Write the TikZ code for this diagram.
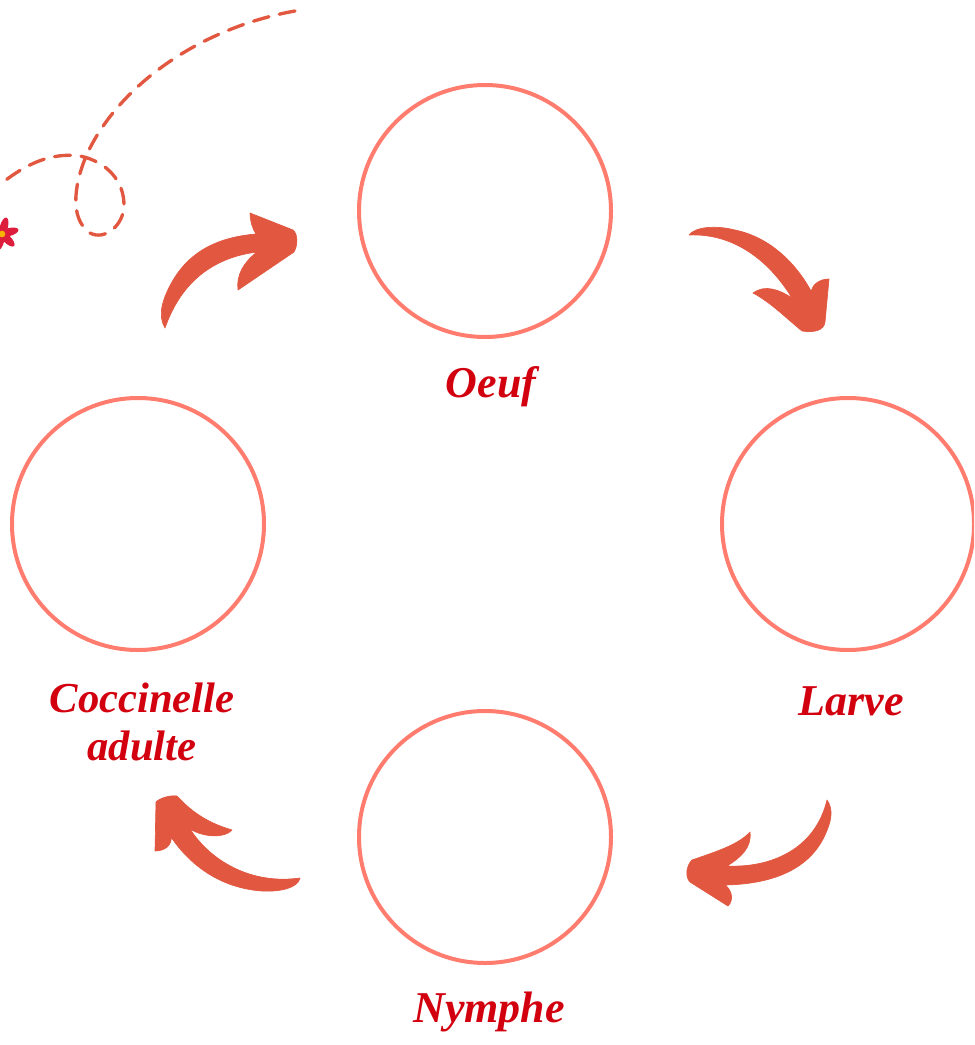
\documentclass[tikz,border=0pt]{standalone}
\usepackage{fontspec}
\setmainfont{Liberation Serif}
\definecolor{ringc}{HTML}{FF7C6E}
\definecolor{arrowc}{HTML}{E25740}
\definecolor{textc}{HTML}{D2000F}
\definecolor{petal}{HTML}{DC1E3C}
\definecolor{heart}{HTML}{F5B400}
\tikzset{
  ring/.style={circle,draw=ringc,line width=3pt,fill=white,minimum size=189pt,inner sep=0pt},
  lab/.style={text=textc,font=\fontsize{33}{36}\selectfont\bfseries\itshape,align=center,inner sep=0pt},
  lab2/.style={text=textc,font=\fontsize{32}{36}\selectfont\bfseries\itshape,align=center,inner sep=0pt},
  bigarrow/.style={fill=arrowc,draw=arrowc,line width=0.5pt,line join=round},
  trail/.style={draw=arrowc,line width=2.5pt,dash pattern=on 12pt off 8pt,line cap=round}
}
\begin{document}
\begin{tikzpicture}[x=0.75pt,y=-0.75pt]
\path[use as bounding box] (0,0) rectangle (974,1045);
\begin{scope}
\clip (0,0) rectangle (974,1045);
\node[ring] (oeuf) at (485,211) {};
\node[ring] (larve) at (848,524) {};
\node[ring] (nymphe) at (485,837) {};
\node[ring] (adulte) at (138,524) {};
\node[lab] (t1) at (491,387) {Oeuf};
\node[lab] (t2) at (851,701) {Larve};
\node[lab] (t3) at (489,1012) {Nymphe};
\node[lab2] (t4) at (142,722) {Coccinelle\\adulte};
% arrows
\path[bigarrow] (165,328) .. controls (157,315) and (163,298) .. (172,282)
  .. controls (190,250) and (220,237) .. (256,234)
  .. controls (252,228) and (250,220) .. (250,213)
  -- (293,230) .. controls (298,234) and (298,245) .. (294,252)
  -- (238,290) .. controls (236,275) and (244,262) .. (257,252)
  .. controls (210,258) and (180,285) .. (165,328) -- cycle;
\path[bigarrow] (689,235) .. controls (695,227) and (715,225) .. (735,230)
  .. controls (765,236) and (793,258) .. (811,291)
  .. controls (813,284) and (820,279) .. (829,279)
  -- (825,322) .. controls (824,330) and (815,333) .. (802,331)
  .. controls (785,317) and (770,302) .. (753,293)
  .. controls (765,284) and (780,290) .. (792,298)
  .. controls (770,262) and (735,233) .. (689,235) -- cycle;
\path[bigarrow] (827,800) .. controls (834,810) and (831,822) .. (825,835)
  .. controls (810,868) and (775,884) .. (725,885)
  .. controls (732,890) and (734,900) .. (728,906)
  -- (690,882) .. controls (685,877) and (686,866) .. (692,860)
  .. controls (715,852) and (738,845) .. (750,832)
  .. controls (752,848) and (740,858) .. (727,866)
  .. controls (770,868) and (815,850) .. (827,800) -- cycle;
\path[bigarrow] (156,802) .. controls (160,798) and (170,795) .. (177,796)
  .. controls (190,810) and (205,822) .. (232,830)
  .. controls (225,838) and (205,838) .. (190,829)
  .. controls (210,860) and (250,885) .. (300,878)
  .. controls (298,888) and (280,892) .. (262,891)
  .. controls (220,888) and (190,865) .. (171,837)
  .. controls (172,845) and (165,851) .. (155,851) -- cycle;
% trail
\path[trail] (295,11) .. controls (200,28) and (120,85) .. (88,152)
  .. controls (75,180) and (68,218) .. (90,233)
  .. controls (105,241) and (124,225) .. (124,205)
  .. controls (124,182) and (108,162) .. (80,156)
  .. controls (50,152) and (25,165) .. (2,183);
% flower
\foreach \a in {0,60,...,300}{
  \path[fill=petal,rotate around={\a+15:(2,234)}] (9,234) ellipse [x radius=7.5pt,y radius=3pt];
}
\path[fill=heart] (2,234) circle [radius=2.5pt];
\end{scope}
\end{tikzpicture}
\end{document}
